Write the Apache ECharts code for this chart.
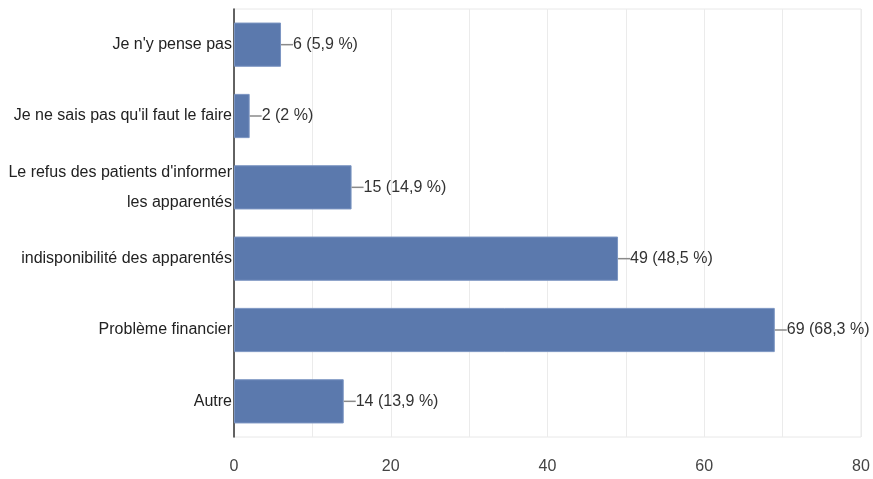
<!DOCTYPE html>
<html>
<head>
<meta charset="utf-8">
<script src="https://cdn.jsdelivr.net/npm/echarts@6/dist/echarts.min.js"></script>
<style>
  html, body { margin: 0; padding: 0; background: #fff; }
  #chart { width: 873px; height: 479px; }
</style>
</head>
<body>
<div id="chart"></div>
<script>
// Survey answers (top to bottom)
const categories = [
  "Je n'y pense pas",
  "Je ne sais pas qu'il faut le faire",
  "Le refus des patients d'informer\nles apparentés",
  "indisponibilité des apparentés",
  "Problème financier",
  "Autre"
];
const counts = [6, 2, 15, 49, 69, 14];
const percents = ["5,9", "2", "14,9", "48,5", "68,3", "13,9"];
const xTicks = [0, 20, 40, 60, 80];

const chart = echarts.init(document.getElementById('chart'), null, { renderer: 'canvas' });
const fontFamily = '"Liberation Sans", Arial, sans-serif';
const fontSize = 16;

chart.setOption({
  animation: false,
  backgroundColor: '#ffffff',
  grid: {
    left: 234, right: 12, top: 9, bottom: 42,
    outerBoundsMode: 'none',
    show: true, borderColor: '#e8e8e8', borderWidth: 1
  },
  xAxis: {
    type: 'value',
    min: xTicks[0],
    max: xTicks[xTicks.length - 1],
    interval: 10,
    axisLine: { show: false },
    axisTick: { show: false },
    splitLine: { show: true, lineStyle: { color: '#ebebeb', width: 1 } },
    axisLabel: {
      margin: 22,
      color: '#444',
      fontSize: fontSize,
      fontFamily: fontFamily,
      formatter: v => (xTicks.indexOf(v) >= 0 ? String(v) : '')
    }
  },
  yAxis: {
    type: 'category',
    data: categories,
    inverse: true,
    axisLine: { show: true, lineStyle: { color: '#333', width: 1.5 } },
    axisTick: { show: false },
    axisLabel: {
      margin: 2,
      color: '#222',
      fontSize: fontSize,
      lineHeight: 30,
      fontFamily: fontFamily,
      align: 'right'
    }
  },
  series: [{
    type: 'bar',
    data: counts,
    barCategoryGap: '38%',
    itemStyle: { color: '#5b79ad', borderColor: '#7b95c2', borderWidth: 1 },
    label: {
      show: true,
      position: 'right',
      distance: 0,
      formatter: p => '{l|}{t|' + counts[p.dataIndex] + ' (' + percents[p.dataIndex] + ' %)}',
      rich: {
        l: { width: 12, height: 1.5, backgroundColor: '#8a8a8a' },
        t: { color: '#333', fontSize: fontSize, fontFamily: fontFamily }
      }
    }
  }]
});
</script>
</body>
</html>
